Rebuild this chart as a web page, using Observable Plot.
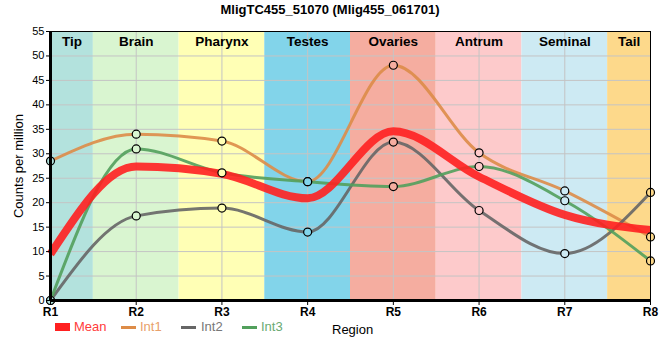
<!DOCTYPE html>
<html><head><meta charset="utf-8">
<script src="https://cdn.jsdelivr.net/npm/d3@7"></script>
<script src="https://cdn.jsdelivr.net/npm/@observablehq/plot@0.6"></script>
<style>
body{margin:0;background:#fff;font-family:"Liberation Sans",Arial,sans-serif;}
#wrap{position:relative;width:660px;height:360px;overflow:hidden}
#title{height:22px;line-height:20px;text-align:center;font-weight:bold;font-size:13px;color:#000;}
#legend{position:relative;height:38px;font-size:13px;}
.it{position:absolute;top:-3px;line-height:16px;white-space:nowrap}
.sw{position:absolute;}
svg{overflow:visible}
</style></head>
<body><div id="wrap">
<div id="title">MligTC455_51070 (Mlig455_061701)</div>
<div id="chart"></div>
<div id="legend"></div>
</div>
<script>
const regions = ["R1","R2","R3","R4","R5","R6","R7","R8"];
const bandNames = ["Tip","Brain","Pharynx","Testes","Ovaries","Antrum","Seminal","Tail"];
const bandColors = ["#b3e2dd","#d9f5d0","#ffffb5","#82d4ea","#f5ada0","#fdcacb","#cdeaf3","#fdd98b"];
const int1 = [28.5, 34.0, 32.6, 24.3, 48.1, 30.2, 22.4, 13.0];
const int2 = [0.0, 17.3, 18.9, 14.0, 32.4, 18.4, 9.6, 22.1];
const int3 = [0.0, 31.0, 26.1, 24.3, 23.3, 27.4, 20.4, 8.1];
const mean = [9.5, 27.4, 25.9, 20.9, 34.6, 25.3, 17.5, 14.4];
const yTicks = [0,5,10,15,20,25,30,35,40,45,50,55];

const seriesNames = ["Int1","Int2","Int3"];
const seriesValues = [int1, int2, int3];
const seriesColors = {Mean:"#ff2020", Int1:"#dd8c48", Int2:"#666666", Int3:"#52a05c"};

const n = regions.length;
const bands = bandNames.map((name, i) => ({
  name, color: bandColors[i],
  x1: Math.max(1, i + 0.5), x2: Math.min(n, i + 1.5)
}));
const intData = seriesNames.flatMap((s, k) => seriesValues[k].map((v, i) => ({series: s, x: i + 1, y: v, fill: bandColors[i]})));
const meanData = mean.map((v, i) => ({x: i + 1, y: v}));

const chart = Plot.plot({
  width: 660, height: 300,
  marginLeft: 50, marginRight: 10, marginTop: 9, marginBottom: 22,
  style: {fontFamily: "'Liberation Sans', Arial, sans-serif", background: "transparent", color: "#000"},
  x: {domain: [1, n]},
  y: {domain: [0, 55]},
  marks: [
    Plot.rectX(bands, {x1: "x1", x2: "x2", y1: 0, y2: 55, fill: d => d.color, stroke: null}),
    Plot.gridY(yTicks.slice(1), {stroke: "#c4c4c4", strokeOpacity: 1, strokeWidth: 1}),
    Plot.gridX(d3.range(2, n), {stroke: "#c4c4c4", strokeOpacity: 1, strokeWidth: 1}),
    Plot.text(bands, {x: d => (d.x1 + d.x2) / 2, y: 55, dy: 10, text: "name", fontWeight: "bold", fontSize: 13.5, fill: "#000"}),
    Plot.line(intData, {x: "x", y: "y", z: "series", stroke: d => seriesColors[d.series], strokeWidth: 3, curve: "monotone-x", strokeOpacity: 0.9}),
    Plot.line(meanData, {x: "x", y: "y", stroke: seriesColors.Mean, strokeWidth: 8, curve: "monotone-x", strokeOpacity: 0.9, strokeLinecap: "butt"}),
    Plot.dot(intData, {x: "x", y: "y", r: 4, fill: "fill", stroke: "#000", strokeWidth: 1.2}),
    Plot.frame({stroke: "#000", strokeWidth: 1}),
    Plot.ruleX([1], {stroke: "#000", strokeWidth: 3}),
    Plot.ruleY([0], {stroke: "#000", strokeWidth: 3}),
    Plot.axisY(yTicks, {tickSize: 4, tickPadding: 2, fontSize: 11, label: null}),
    Plot.axisX(d3.range(1, n + 1), {tickSize: 5, tickPadding: 2, fontSize: 12, fontWeight: "bold", label: null, tickFormat: d => regions[d - 1]}),
    Plot.text(["Counts per million"], {frameAnchor: "left", textAnchor: "middle", dx: -32, rotate: -90, fontSize: 13, fill: "#000"})
  ]
});
document.getElementById("chart").appendChild(chart);

const leg = document.getElementById("legend");
const items = [
  {label: "Mean", color: "#ff3b3b", sx: 55, sw: 15, sh: 8, tx: 74},
  {label: "Int1", color: "#e8a06a", lc: seriesColors.Int1, sx: 121, sw: 15, sh: 3, tx: 140},
  {label: "Int2", color: "#777777", lc: seriesColors.Int2, sx: 181, sw: 15, sh: 3, tx: 201},
  {label: "Int3", color: "#6aaa73", lc: seriesColors.Int3, sx: 242, sw: 15, sh: 3, tx: 261}
];
for (const it of items) {
  const s = document.createElement("div");
  s.className = "sw";
  s.style.cssText = `left:${it.sx}px;top:${5 - it.sh/2}px;width:${it.sw}px;height:${it.sh}px;background:${it.lc || "#ff2020"}`;
  leg.appendChild(s);
  const t = document.createElement("div");
  t.className = "it";
  t.style.left = it.tx + "px";
  t.style.color = it.color;
  t.textContent = it.label;
  leg.appendChild(t);
}
const r = document.createElement("div");
r.className = "it";
r.style.left = "332px"; r.style.top = "0px"; r.style.color = "#000";
r.textContent = "Region";
leg.appendChild(r);
</script>
</body></html>
